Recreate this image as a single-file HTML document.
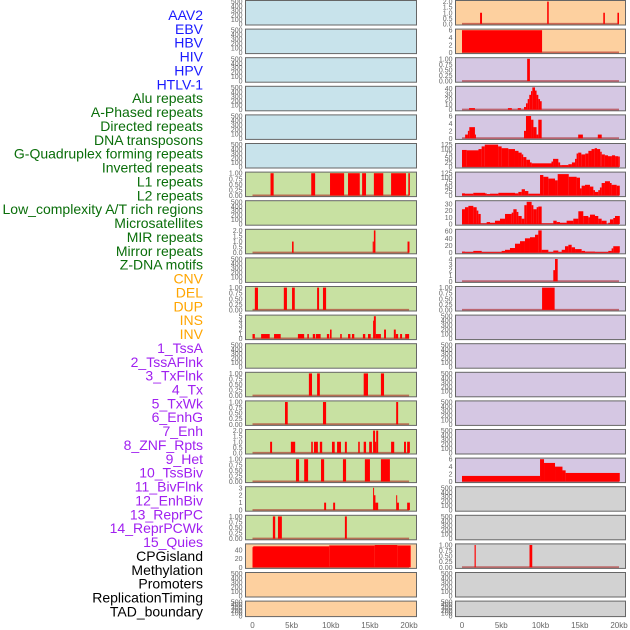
<!DOCTYPE html>
<html><head><meta charset="utf-8">
<style>
html,body{margin:0;padding:0;background:#fff;}
svg{display:block;}
text{font-family:"Liberation Sans",sans-serif;}
</style></head>
<body>
<svg id="chart" width="630" height="630" viewBox="0 0 630 630" xmlns="http://www.w3.org/2000/svg">
<g id="labels"></g>
<g id="panels"></g>
<g id="xaxis"></g>
</svg>
<script>
// ---------- data ----------
const trackLabels = ["AAV2","EBV","HBV","HIV","HPV","HTLV-1","Alu repeats","A-Phased repeats","Directed repeats","DNA transposons","G-Quadruplex forming repeats","Inverted repeats","L1 repeats","L2 repeats","Low_complexity A/T rich regions","Microsatellites","MIR repeats","Mirror repeats","Z-DNA motifs","CNV","DEL","DUP","INS","INV","1_TssA","2_TssAFlnk","3_TxFlnk","4_Tx","5_TxWk","6_EnhG","7_Enh","8_ZNF_Rpts","9_Het","10_TssBiv","11_BivFlnk","12_EnhBiv","13_ReprPC","14_ReprPCWk","15_Quies","CPGisland","Methylation","Promoters","ReplicationTiming","TAD_boundary"];
const labelGroups = [6,13,5,15,5];
const groupColors = ["#1a1aff","#0a6e0a","#ffa500","#a020f0","#000000"];
const xTickValues = [0,5,10,15,20];
const xTickLabels = ["0","5kb","10kb","15kb","20kb"];
const emptyTicks = [0,100,200,300,400,500];
const ticks01 = [0,0.25,0.5,0.75,1];
const ticks01Labels = ["0.00","0.25","0.50","0.75","1.00"];
const ticks02 = [0,0.5,1,1.5,2];
const ticks02Labels = ["0.0","0.5","1.0","1.5","2.0"];

// left column series: [startKb, endKb, value]
const leftL1 = [[2.3,2.7,1],[7.5,8.0,1],[9.9,11.7,1],[12.2,13.7,1],[14.0,14.5,1],[15.5,16.7,1],[17.7,19.6,1],[19.9,20.1,1]];
const leftMIR = [[5.05,5.25,1],[15.35,15.5,1],[15.5,15.7,2],[19.8,20.05,1]];
const leftCNV = [[0.3,0.7,1],[4.0,4.4,1],[5.05,5.4,1],[8.25,8.5,1],[9.0,9.4,1]];
const leftINS = [[0,0.3,1],[1.1,2.2,1],[2.75,3.6,1],[5.8,6.6,1],[7.0,7.2,1],[7.7,8.0,1],[8.1,8.7,1],[9.5,9.8,1],[9.9,10.1,2],[11.2,11.4,1],[12.2,12.5,1],[12.7,13.0,1],[14.1,14.4,1],[14.75,15.1,1],[15.4,15.5,4],[15.5,15.75,5],[15.75,16.4,1],[16.8,17.05,2],[18.05,18.3,2],[18.3,18.6,1],[18.85,19.1,1],[19.5,20.0,1]];
const leftTxFlnk = [[7.2,7.6,1],[8.25,8.6,1],[14.2,14.75,1],[16.4,16.8,1]];
const leftTxWk = [[4.15,4.5,1],[9.0,9.4,1],[18.35,18.6,1]];
const leftEnh = [[2.25,2.5,1],[4.9,5.45,1],[7.5,7.7,1],[7.85,8.35,1],[8.6,8.9,1],[10.15,10.5,1],[10.8,11.3,1],[11.8,12.05,1],[13.5,13.7,1],[14.2,14.5,1],[14.9,15.25,1],[15.4,15.65,2],[15.65,15.8,1],[15.8,16.05,2],[17.7,18.1,1],[19.35,19.6,1],[19.75,20.1,1]];
const leftHet = [[5.55,5.95,1],[6.6,7.1,1],[8.75,9.15,1],[11.55,11.95,1],[14.35,15.0,1],[16.4,17.55,1]];
const leftBivFlnk = [[9.15,9.4,1],[10.3,10.55,1],[15.4,15.5,3],[15.5,15.7,2],[15.7,16.05,1],[18.35,18.45,2],[18.45,18.7,1],[19.75,20.1,1]];
const leftReprPC = [[2.6,2.9,1],[3.25,3.75,1],[11.8,12.05,1]];
const leftCPG = [[0,0.1,46],[0.1,9.8,48],[9.8,15.6,50],[15.6,18.5,51],[18.5,20.2,50]];

// right column series
const rightAAV2 = [[2.3,2.55,1],[10.85,11.05,2],[18.0,18.2,1],[19.8,20.0,1]];
const rightEBV = [[0,10.2,6]];
const rightHIV = [[8.3,8.65,1]];
const rightAlu = [[0.9,1.65,3],[5.85,6.35,3],[7.1,7.5,3],[7.9,8.15,5],[8.15,8.37,12],[8.37,8.57,20],[8.57,8.79,28],[8.79,8.96,35],[8.96,9.3,42],[9.3,9.5,36],[9.5,9.72,28],[9.72,9.94,20],[9.94,10.15,16]];
const rightDirected = [[0.4,0.75,1],[0.75,0.93,2],[0.93,1.65,3],[1.65,1.75,1],[7.9,8.15,2],[8.15,8.8,6],[8.8,9.1,5],[9.1,9.5,3],[9.5,9.72,1],[9.72,10.15,5],[14.8,15.4,1],[17.3,17.8,1]];
const gquadEdges = [0,0.6,2.1,2.5,2.9,4.6,5.05,5.9,6.75,7.2,7.6,7.8,8.2,8.66,8.87,9.3,11.4,11.6,11.85,12.27,12.5,12.7,13.55,14.0,14.4,14.6,14.8,15.2,15.7,16.1,16.5,16.9,17.2,17.6,17.8,18.2,18.6,19.1,19.5,19.9,20.1];
const gquadValues = [95,93,100,115,125,115,105,100,90,80,70,55,40,25,20,20,30,45,45,25,10,10,15,25,45,75,80,70,75,90,100,105,100,85,70,65,60,65,60,58];
const rightL1 = [[0,0.38,12],[0.38,1.44,10],[1.44,2.93,15],[2.93,3.14,12],[3.14,3.57,8],[3.57,4.63,10],[4.63,6.75,15],[6.75,7.18,12],[7.18,7.6,20],[7.6,8.02,35],[8.02,8.45,25],[8.45,9.94,10],[9.94,10.36,115],[10.36,11.0,105],[11.0,11.85,95],[11.85,12.19,85],[12.19,13.6,120],[13.6,14.6,105],[14.6,15.03,100],[15.03,15.24,40],[15.24,15.67,55],[15.67,16.3,60],[16.3,16.73,50],[16.73,16.94,30],[16.94,17.36,20],[17.36,17.57,30],[17.57,17.79,45],[17.79,18.21,70],[18.21,18.85,80],[18.85,19.06,70],[19.06,19.7,60],[19.7,20.1,55]];
const rightLowComplex = [[0,0.38,22],[0.38,0.81,25],[0.81,1.44,27],[1.44,1.87,25],[1.87,2.08,20],[2.08,2.38,15],[2.38,3.14,1],[3.14,3.57,3],[3.57,4.2,2],[4.2,4.84,5],[4.84,5.48,8],[5.48,6.33,15],[6.33,6.54,17],[6.54,6.96,22],[6.96,7.18,18],[7.18,7.6,12],[7.6,7.94,8],[7.94,8.24,28],[8.24,8.87,33],[8.87,9.09,28],[9.09,9.51,22],[9.51,9.72,25],[9.72,10.15,26],[10.15,11.63,1],[11.63,12.06,5],[12.06,12.48,3],[12.48,13.33,2],[13.33,14.18,5],[14.18,14.82,8],[14.82,15.45,19],[15.45,16.09,12],[16.09,16.3,10],[16.3,16.94,14],[16.94,17.36,12],[17.36,17.79,8],[17.79,18.42,5],[18.64,18.85,2],[18.85,19.27,7],[19.27,19.49,9],[19.49,20.1,12]];
const rightMIR = [[0,0.38,3],[0.38,1.44,2],[1.44,2.51,5],[2.51,5.05,2],[5.05,5.48,5],[5.48,6.11,8],[6.11,6.75,13],[6.75,7.39,25],[7.39,8.02,32],[8.02,8.66,40],[8.66,9.3,43],[9.3,9.72,50],[9.72,10.15,62],[10.15,11.0,8],[11.0,11.63,2],[11.63,12.27,6],[12.27,12.7,2],[12.7,13.12,8],[13.12,13.55,18],[13.55,13.97,22],[13.97,14.4,15],[14.4,15.24,10],[15.24,15.67,5],[15.67,16.94,3],[16.94,18.64,2],[18.64,19.06,5],[19.06,19.27,12],[19.27,20.1,18]];
const rightZDNA = [[11.63,11.85,2],[11.85,12.19,4]];
const rightDEL = [[10.2,11.8,1]];
const rightTssBiv = [[0,9.94,1.5],[9.94,10.45,6],[10.45,11.85,5],[11.85,12.8,4],[12.8,13.2,3],[13.2,20.1,2.3]];
const rightCPG = [[1.6,1.75,1],[8.6,8.95,1]];

// ---------- layout ----------
const BLUE="#c8e3eb", GREEN="#c8e1a2", PEACH="#fdd09f", PURPLE="#d5c7e3", GRAY="#d2d2d2";
function edgesToSegs(edges, vals){ const s=[]; for(let i=0;i<vals.length;i++) s.push([edges[i],edges[i+1],vals[i]]); return s; }
const E = null;
const T = (arr) => ({ticks:arr, labels:arr.map(String)});
const leftCol = [
 [BLUE,E],[BLUE,E],[BLUE,E],[BLUE,E],[BLUE,E],[BLUE,E],
 [GREEN,leftL1,{ticks:ticks01,labels:ticks01Labels}],[GREEN,E],
 [GREEN,leftMIR,{ticks:ticks02,labels:ticks02Labels}],[GREEN,E],
 [GREEN,leftCNV,{ticks:ticks01,labels:ticks01Labels}],
 [GREEN,leftINS,T([0,1,2,3,4,5])],[GREEN,E],
 [GREEN,leftTxFlnk,{ticks:ticks01,labels:ticks01Labels}],
 [GREEN,leftTxWk,{ticks:ticks01,labels:ticks01Labels}],
 [GREEN,leftEnh,{ticks:ticks02,labels:ticks02Labels}],
 [GREEN,leftHet,{ticks:ticks01,labels:ticks01Labels}],
 [GREEN,leftBivFlnk,T([0,1,2,3])],
 [GREEN,leftReprPC,{ticks:ticks01,labels:ticks01Labels}],
 [PEACH,leftCPG,T([0,20,40])],[PEACH,E],[PEACH,E]
];
const rightCol = [
 [PEACH,rightAAV2,{ticks:ticks02,labels:ticks02Labels}],
 [PEACH,rightEBV,T([0,2,4,6])],
 [PURPLE,rightHIV,{ticks:ticks01,labels:ticks01Labels}],
 [PURPLE,rightAlu,T([0,10,20,30,40])],
 [PURPLE,rightDirected,T([0,2,4,6])],
 [PURPLE,edgesToSegs(gquadEdges,gquadValues),T([0,25,50,75,100,125])],
 [PURPLE,rightL1,T([0,25,50,75,100,125])],
 [PURPLE,rightLowComplex,T([0,10,20,30])],
 [PURPLE,rightMIR,T([0,20,40,60])],
 [PURPLE,rightZDNA,T([0,1,2,3,4])],
 [PURPLE,rightDEL,{ticks:ticks01,labels:ticks01Labels}],
 [PURPLE,E],[PURPLE,E],[PURPLE,E],[PURPLE,E],[PURPLE,E],
 [PURPLE,rightTssBiv,T([0,2,4,6])],
 [GRAY,E],[GRAY,E],
 [GRAY,rightCPG,{ticks:ticks01,labels:ticks01Labels}],
 [GRAY,E],[GRAY,E]
];
const NS="http://www.w3.org/2000/svg";
function mk(tag, attrs, parent){ const e=document.createElementNS(NS,tag); for(const k in attrs) e.setAttribute(k,attrs[k]); parent.appendChild(e); return e; }

// labels
const lg=document.getElementById('labels');
let li=0;
labelGroups.forEach((n,g)=>{ for(let k=0;k<n;k++){ const t=mk('text',{x:203,y:(20+13.87*li).toFixed(1),'text-anchor':'end','font-size':'14',fill:groupColors[g]},lg); t.textContent=trackLabels[li];
 
 
 li++; } });

// panels
const pg=document.getElementById('panels');
const cols=[{x0:245.5,x1:416.5,zero:252.5,per:7.83,rows:leftCol},{x0:455.5,x1:625.5,zero:462,per:7.85,rows:rightCol}];
cols.forEach((c,ci)=>{
 c.rows.forEach((r,i)=>{
  const top=0.5+28.6*i, h=(i===21)?15.5:24.5;
  const g=mk('g',{},pg);
  
  
  mk('rect',{x:c.x0,y:top,width:c.x1-c.x0,height:h,fill:r[0]},g);
  const segs=r[1];
  const tk = segs ? r[2] : {ticks:emptyTicks,labels:emptyTicks.map(String)};
  let ymax=tk.ticks[tk.ticks.length-1];
  if(segs) segs.forEach(s=>{ if(s[2]>ymax) ymax=s[2]; });
  const lo=-0.05*ymax, hi=1.05*ymax;
  const ys=v=> top+h-(v-lo)/(hi-lo)*h;
  const xs=kb=> c.zero+kb*c.per;
  if(segs){
   mk('line',{x1:xs(0),x2:xs(20),y1:ys(0),y2:ys(0),stroke:'rgba(170,20,20,0.55)','stroke-width':2},g);
   segs.forEach(s=>{
    if(s[2]<=0) return;
    const x=xs(s[0]), w=Math.max(1,xs(s[1])-x);
    const b=mk('rect',{x:x.toFixed(2),y:ys(s[2]).toFixed(2),width:w.toFixed(2),height:(ys(0)-ys(s[2])).toFixed(2),fill:'#ff0000'},g);
    
    
   });
  }
  mk('rect',{x:c.x0,y:top,width:c.x1-c.x0,height:h,fill:'none',stroke:'#666','stroke-width':1},g);
  tk.ticks.forEach((v,k)=>{
   const t=mk('text',{x:c.x0-3,y:(ys(v)+2.5).toFixed(1),'text-anchor':'end','font-size':'7',fill:'#666'},g);
   t.textContent=tk.labels[k];
   
   
  });
 });
 const xg=document.getElementById('xaxis');
 xTickValues.forEach((v,k)=>{
  const t=mk('text',{x:(c.zero+v*c.per).toFixed(1),y:628,'text-anchor':'middle','font-size':'8',fill:'#666'},xg);
  t.textContent=xTickLabels[k];
  
  
 });
});
</script>
</body></html>
